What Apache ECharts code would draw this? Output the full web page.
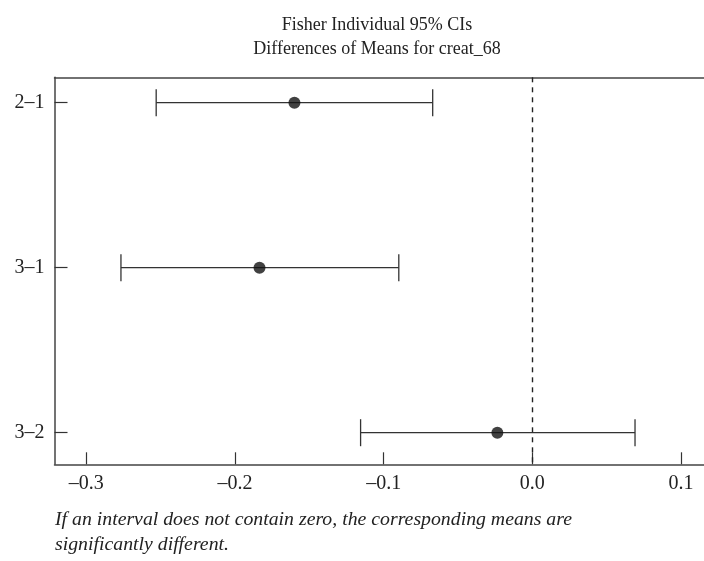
<!DOCTYPE html>
<html>
<head>
<meta charset="utf-8">
<script src="https://cdn.jsdelivr.net/npm/echarts@6/dist/echarts.min.js"></script>
<style>html,body{margin:0;padding:0;background:#fff}#c{width:704px;height:561px}</style>
</head>
<body>
<div id="c"></div>
<script>
var categories = ["2–1", "3–1", "3–2"];
var centers = [-0.160, -0.1835, -0.0235];
var lowers = [-0.253, -0.2767, -0.1155];
var uppers = [-0.067, -0.0898, 0.0691];
var xTicks = [-0.3, -0.2, -0.1, 0.0, 0.1];
var xTickLabels = ["–0.3", "–0.2", "–0.1", "0.0", "0.1"];
var titleLines = ["Fisher Individual 95% CIs", "Differences of Means for creat_68"];
var noteLines = ["If an interval does not contain zero, the corresponding means are", "significantly different."];

var FONT = "'Liberation Serif', 'DejaVu Serif', serif";
var INK = '#222';
var XMIN = -0.3214, XMAX = 0.1155;
var catPos = categories.map(function (c, i) { return i + 1; });

var ciData = categories.map(function (c, i) { return [lowers[i], uppers[i], catPos[i]]; });
var ptData = categories.map(function (c, i) { return [centers[i], catPos[i]]; });

var chart = echarts.init(document.getElementById('c'), null, { renderer: 'canvas' });
chart.setOption({
  backgroundColor: '#fff',
  animation: false,
  grid: { left: 54.5, right: 0, top: 77.3, bottom: 96.7, show: false, containLabel: false },
  xAxis: [{
    type: 'value', min: XMIN, max: XMAX,
    axisLine: { show: true, onZero: false, lineStyle: { color: '#444', width: 1.5 } },
    axisTick: { show: true, inside: true, length: 12, customValues: xTicks, lineStyle: { color: '#333', width: 1.2 } },
    axisLabel: {
      customValues: xTicks, margin: 9, fontFamily: FONT, fontSize: 20, color: INK,
      formatter: function (v) {
        for (var i = 0; i < xTicks.length; i++) if (Math.abs(v - xTicks[i]) < 1e-6) return xTickLabels[i];
        return '';
      }
    },
    splitLine: { show: false }
  }, {
    type: 'value', position: 'top', min: XMIN, max: XMAX,
    axisLine: { show: true, onZero: false, lineStyle: { color: '#444', width: 1.5 } },
    axisTick: { show: false }, axisLabel: { show: false }, splitLine: { show: false }
  }],
  yAxis: {
    type: 'value', inverse: true, min: 0.846, max: 3.1915,
    axisLine: { show: true, onZero: false, lineStyle: { color: '#444', width: 1.5 } },
    axisTick: { show: true, inside: true, length: 13, customValues: catPos, lineStyle: { color: '#333', width: 1.2 } },
    axisLabel: {
      customValues: catPos, margin: 10, fontFamily: FONT, fontSize: 20, color: INK,
      formatter: function (v) { var i = Math.round(v) - 1; return categories[i] || ''; }
    },
    splitLine: { show: false }
  },
  series: [
    {
      type: 'custom',
      data: ciData,
      renderItem: function (params, api) {
        var lo = api.coord([api.value(0), api.value(2)]);
        var hi = api.coord([api.value(1), api.value(2)]);
        var h = 13.5;
        var style = { stroke: '#333', lineWidth: 1.3 };
        return {
          type: 'group',
          children: [
            { type: 'line', shape: { x1: lo[0], y1: lo[1], x2: hi[0], y2: hi[1] }, style: style },
            { type: 'line', shape: { x1: lo[0], y1: lo[1] - h, x2: lo[0], y2: lo[1] + h }, style: style },
            { type: 'line', shape: { x1: hi[0], y1: hi[1] - h, x2: hi[0], y2: hi[1] + h }, style: style }
          ]
        };
      },
      z: 2
    },
    {
      type: 'scatter',
      data: ptData,
      symbol: 'circle', symbolSize: 12,
      itemStyle: { color: '#111' },
      z: 3,
      markLine: {
        silent: true, symbol: ['none', 'none'], label: { show: false },
        lineStyle: { color: '#222', type: [5, 5], width: 1.4 },
        data: [{ xAxis: 0 }]
      }
    }
  ],
  graphic: [
    {
      type: 'text', x: 377, y: 13,
      style: { text: titleLines.join('\n'), align: 'center', fontFamily: FONT, fontSize: 18, lineHeight: 24, fill: INK }
    },
    {
      type: 'text', x: 55, y: 507,
      style: { text: noteLines.join('\n'), fontFamily: FONT, fontStyle: 'italic', fontSize: 19.8, lineHeight: 25, fill: INK }
    }
  ]
});
</script>
</body>
</html>
